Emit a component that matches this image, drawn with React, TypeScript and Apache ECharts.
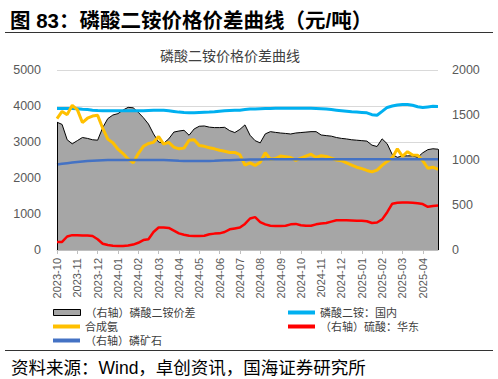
import React, { useEffect, useRef } from "react";
import * as echarts from "echarts";

const monthLabels = [
  "2023-10", "2023-11", "2023-12", "2024-01", "2024-02", "2024-03", "2024-04",
  "2024-05", "2024-06", "2024-07", "2024-08", "2024-09", "2024-10", "2024-11",
  "2024-12", "2025-01", "2025-02", "2025-03", "2025-04",
];

// position in months from 2023-10-01
const xPos = [
  0, 0.25, 0.5, 0.75, 1, 1.25, 1.5, 1.75, 2, 2.25, 2.5, 2.75, 3, 3.25, 3.5, 3.75,
  4, 4.25, 4.5, 4.75, 5, 5.25, 5.5, 5.75, 6, 6.25, 6.5, 6.75, 7, 7.25, 7.5, 7.75,
  8, 8.25, 8.5, 8.75, 9, 9.25, 9.5, 9.75, 10, 10.25, 10.5, 10.75, 11, 11.25, 11.5, 11.75,
  12, 12.25, 12.5, 12.75, 13, 13.25, 13.5, 13.75, 14, 14.25, 14.5, 14.75, 15, 15.25, 15.5, 15.75,
  16, 16.25, 16.5, 16.75, 17, 17.25, 17.5, 17.75, 18, 18.25, 18.5, 18.75,
];

// (右轴) 磷酸二铵价差
const spread = [
  1420, 1395, 1225, 1180, 1215, 1250, 1240, 1225, 1220, 1360, 1460, 1500, 1515, 1555, 1585, 1580,
  1530, 1470, 1400, 1290, 1200, 1185, 1235, 1310, 1322, 1330, 1275, 1345, 1375, 1378, 1365, 1360,
  1360, 1363, 1326, 1305, 1340, 1390, 1275, 1215, 1190, 1290, 1315, 1307, 1300, 1295, 1289, 1300,
  1305, 1310, 1315, 1315, 1278, 1271, 1265, 1250, 1240, 1234, 1225, 1220, 1215, 1210, 1165, 1150,
  1235, 1180, 1060, 1030, 1045, 1046, 1046, 1030, 1080, 1115, 1125, 1120,
];

// 磷酸二铵：国内
const dapDomestic = [
  3930, 3930, 3930, 3930, 3925, 3910, 3900, 3885, 3875, 3870, 3870, 3865, 3865, 3870, 3870, 3870,
  3870, 3870, 3875, 3880, 3885, 3880, 3870, 3850, 3830, 3820, 3815, 3815, 3820, 3825, 3830, 3840,
  3855, 3865, 3875, 3880, 3885, 3900, 3915, 3920, 3925, 3930, 3930, 3935, 3935, 3935, 3935, 3935,
  3935, 3935, 3935, 3930, 3925, 3915, 3900, 3885, 3870, 3855, 3840, 3830, 3820, 3810, 3760, 3745,
  3850, 3960, 4000, 4030, 4040, 4040, 4020, 3980, 3960, 3975, 3990, 3985,
];

// 合成氨
const ammonia = [
  3650, 3850, 3760, 4020, 3900, 3540, 3660, 3720, 3740, 3380, 3080, 2980, 2800, 2680, 2530, 2420,
  2680, 2880, 2960, 2990, 3150, 2940, 2990, 2860, 2810, 2830, 3050, 3060, 2900, 2880, 2840, 2810,
  2770, 2745, 2710, 2710, 2650, 2360, 2420, 2350, 2440, 2700, 2520, 2540, 2610, 2590, 2570, 2490,
  2550, 2610, 2660, 2570, 2620, 2600, 2550, 2500, 2480, 2420, 2360, 2300, 2260, 2210, 2170, 2220,
  2350, 2460, 2560, 2810, 2600, 2730, 2640, 2630, 2480, 2270, 2300, 2240,
];

// (右轴) 磷矿石
const phosphateRock = [
  950, 958, 965, 972, 978, 984, 988, 992, 995, 997, 999, 1000, 1000, 1000, 1000, 1000,
  1000, 1000, 1000, 1000, 1000, 1000, 998, 995, 992, 990, 990, 990, 990, 990, 990, 992,
  995, 997, 998, 1000, 1002, 1004, 1005, 1006, 1006, 1007, 1007, 1008, 1008, 1008, 1008, 1008,
  1008, 1008, 1008, 1008, 1008, 1008, 1008, 1008, 1008, 1008, 1008, 1008, 1008, 1008, 1008, 1008,
  1008, 1008, 1008, 1008, 1008, 1008, 1008, 1008, 1008, 1008, 1008, 1008,
];

// (右轴) 硫酸：华东
const sulfuricAcid = [
  90, 90, 150, 165, 165, 160, 160, 155, 120, 70, 55, 48, 45, 45, 50, 60,
  80, 110, 120, 200, 250, 250, 245, 215, 185, 170, 158, 155, 155, 158, 175, 182,
  185, 200, 230, 240, 250, 290, 350, 365, 310, 285, 270, 268, 268, 270, 285, 290,
  275, 270, 270, 285, 295, 300, 315, 330, 330, 330, 328, 325, 325, 320, 300, 305,
  340, 420, 515, 525, 527, 527, 525, 520, 510, 480, 490, 495,
];

const names = {
  spread: "（右轴）磷酸二铵价差",
  dom: "磷酸二铵：国内",
  amm: "合成氨",
  acid: "（右轴）硫酸：华东",
  rock: "（右轴）磷矿石",
};

const SANS = "'Liberation Sans', Arial, 'Noto Sans CJK SC', sans-serif";
const CJK = "'Noto Sans CJK SC', sans-serif";

const pairs = (vals: number[]) => vals.map((v, i) => [xPos[i], v]);

export default function App() {
  const ref = useRef<HTMLDivElement>(null);
  useEffect(() => {
    if (!ref.current) return;
    const chart = echarts.init(ref.current, null, { renderer: "svg" });
    const xMax = xPos[xPos.length - 1];
    const legendText = { fontSize: 11, lineHeight: 11, color: "#404040", fontFamily: SANS };
    const mkLegend = (name: string, left: number, top: number, h: number, itemStyle: any) => ({
      data: [{ name, icon: "rect", itemStyle }],
      left,
      top,
      padding: 0,
      itemWidth: 27,
      itemHeight: h,
      selectedMode: false,
      textStyle: legendText,
    });
    chart.setOption({
      animation: false,
      backgroundColor: "#fff",
      title: [
        {
          text: "图 83：磷酸二铵价格价差曲线（元/吨）",
          left: 5,
          top: 5,
          textStyle: { fontSize: 20.5, fontWeight: "bold", color: "#000", fontFamily: SANS },
        },
        {
          text: "磷酸二铵价格价差曲线",
          left: 155,
          top: 43,
          textStyle: { fontSize: 14, fontWeight: "normal", color: "#404040", fontFamily: CJK },
        },
        {
          text: "资料来源：Wind，卓创资讯，国海证券研究所",
          left: 6,
          top: 354,
          textStyle: { fontSize: 17.5, fontWeight: "normal", color: "#000", fontFamily: SANS },
        },
      ],
      graphic: [
        { type: "line", shape: { x1: 5, y1: 32.5, x2: 493, y2: 32.5 }, style: { stroke: "#333", lineWidth: 1 } },
        { type: "line", shape: { x1: 5, y1: 350.5, x2: 493, y2: 350.5 }, style: { stroke: "#333", lineWidth: 1 } },
      ],
      legend: [
        mkLegend(names.spread, 53, 307, 6, { color: "#a6a6a6", borderColor: "#000", borderWidth: 1 }),
        mkLegend(names.amm, 53, 321, 4, { color: "#FFC000", borderWidth: 0 }),
        mkLegend(names.rock, 53, 335, 4, { color: "#4472C4", borderWidth: 0 }),
        mkLegend(names.dom, 288, 307, 4, { color: "#00B0F0", borderWidth: 0 }),
        mkLegend(names.acid, 288, 321, 4, { color: "#FF0000", borderWidth: 0 }),
      ],
      grid: { left: 57, right: 60, top: 70, bottom: 129, containLabel: false },
      xAxis: {
        type: "value",
        min: 0,
        max: xMax,
        interval: 1,
        axisLine: { show: true, lineStyle: { color: "#bfbfbf" } },
        axisTick: { show: true, length: 4, lineStyle: { color: "#bfbfbf" } },
        splitLine: { show: false },
        axisLabel: {
          rotate: 90,
          margin: 8,
          fontSize: 11,
          color: "#595959",
          fontFamily: SANS,
          showMaxLabel: false,
          formatter: (v: number) => (Number.isInteger(v) && monthLabels[v] ? monthLabels[v] : ""),
        },
      },
      yAxis: [
        {
          type: "value",
          min: 0,
          max: 5000,
          interval: 1000,
          axisLine: { show: false },
          axisTick: { show: false },
          splitLine: { show: true, lineStyle: { color: "#d9d9d9", width: 1 } },
          axisLabel: {
            fontSize: 12.5,
            color: "#595959",
            fontFamily: SANS,
            margin: 16,
            formatter: (v: number) => String(v),
          },
        },
        {
          type: "value",
          min: 0,
          max: 2000,
          interval: 500,
          axisLine: { show: false },
          axisTick: { show: false },
          splitLine: { show: false },
          axisLabel: {
            fontSize: 12.5,
            color: "#595959",
            fontFamily: SANS,
            margin: 14,
            formatter: (v: number) => String(v),
          },
        },
      ],
      series: [
        {
          name: names.spread,
          type: "line",
          yAxisIndex: 1,
          data: pairs(spread),
          showSymbol: false,
          symbol: "none",
          lineStyle: { color: "#000", width: 1 },
          itemStyle: { color: "#a6a6a6" },
          areaStyle: { color: "#a6a6a6", opacity: 1 },
          z: 1,
          markLine: {
            silent: true,
            symbol: "none",
            label: { show: false },
            lineStyle: { color: "#000", width: 1, type: "solid" },
            data: [
              [{ coord: [xPos[0], 0] }, { coord: [xPos[0], spread[0]] }],
              [{ coord: [xMax, 0] }, { coord: [xMax, spread[spread.length - 1]] }],
            ],
          },
        },
        {
          name: names.dom,
          type: "line",
          yAxisIndex: 0,
          data: pairs(dapDomestic),
          symbol: "none",
          lineStyle: { color: "#00B0F0", width: 3 },
          itemStyle: { color: "#00B0F0" },
          z: 2,
        },
        {
          name: names.amm,
          type: "line",
          yAxisIndex: 0,
          data: pairs(ammonia),
          symbol: "none",
          lineStyle: { color: "#FFC000", width: 3 },
          itemStyle: { color: "#FFC000" },
          z: 3,
        },
        {
          name: names.rock,
          type: "line",
          yAxisIndex: 1,
          data: pairs(phosphateRock),
          symbol: "none",
          lineStyle: { color: "#4472C4", width: 2.5 },
          itemStyle: { color: "#4472C4" },
          z: 4,
        },
        {
          name: names.acid,
          type: "line",
          yAxisIndex: 1,
          data: pairs(sulfuricAcid),
          symbol: "none",
          lineStyle: { color: "#FF0000", width: 2.5 },
          itemStyle: { color: "#FF0000" },
          z: 5,
        },
      ],
    });
    return () => chart.dispose();
  }, []);
  return (
    <div
      ref={ref}
      style={{ position: "fixed", left: 0, top: 0, width: 498, height: 379, background: "#fff" }}
    />
  );
}
